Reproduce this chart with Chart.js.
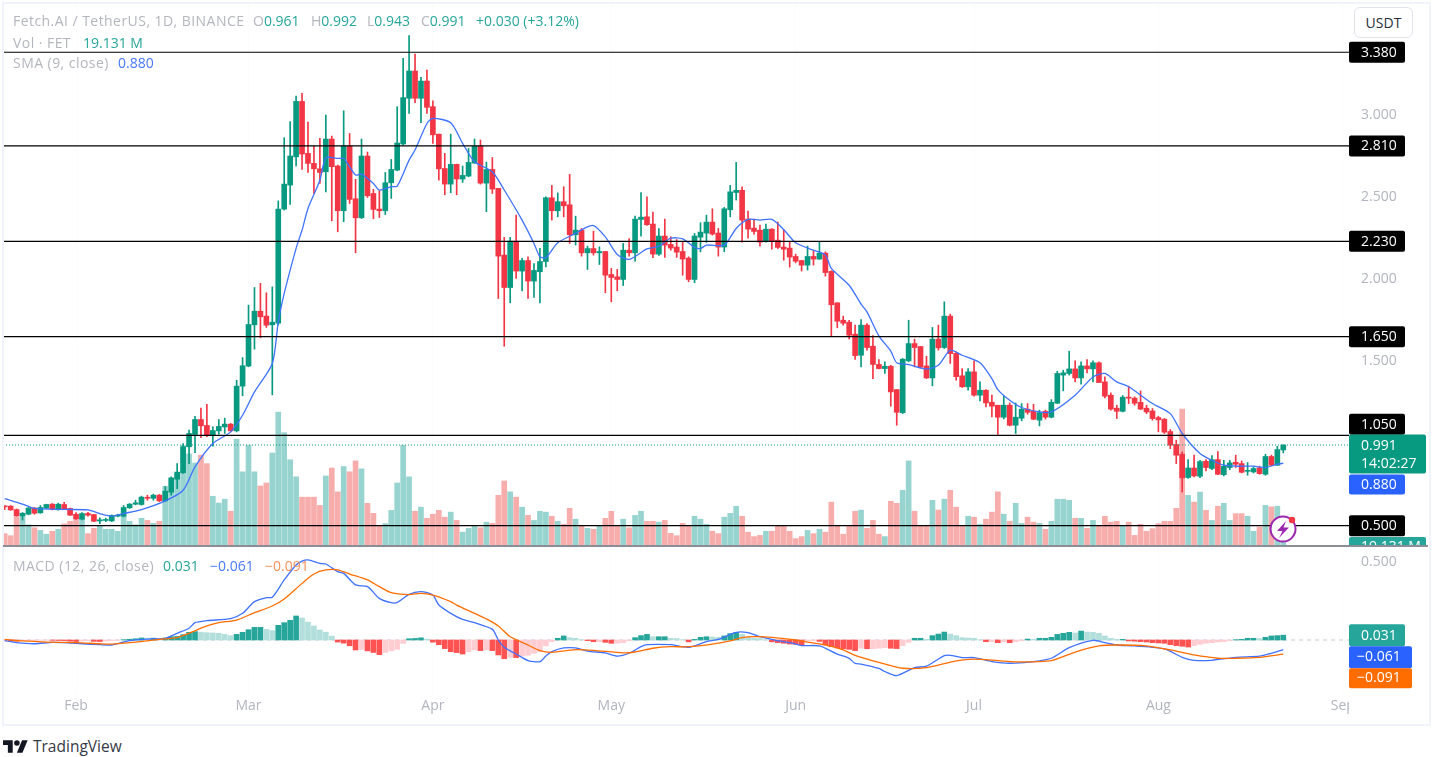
<!DOCTYPE html>
<html>
<head>
<meta charset="utf-8">
<title>FET / USDT</title>
<script src="https://cdn.jsdelivr.net/npm/chart.js@4"></script>
<style>
  html, body { margin: 0; padding: 0; background: #fff; }
  body { width: 1432px; height: 757px; position: relative; overflow: hidden; font-family: "Open Sans", sans-serif; }
  canvas { position: absolute; left: 0; }
  #priceChart { top: 0; }
  #macdChart { top: 546px; }
  .frame { position: absolute; left: 2px; top: 2px; width: 1425px; height: 720px; border: 2px solid #f0f3fa; pointer-events: none; }
  .sep { position: absolute; left: 3px; top: 545px; width: 1425px; height: 2px; background: #8b8e96; }
  .legend { position: absolute; font-size: 14px; line-height: 18px; color: #b4b6bd; white-space: nowrap; }
  .title { letter-spacing: .45px; }
  .val { color: #26a69a; }
  .blue { color: #4a78ff; }
  .orange { color: #f7915a; }
  .usdt { position: absolute; left: 1354px; top: 7px; width: 57px; height: 29px; border: 1px solid #e0e3eb; border-radius: 6px; font-size: 14px; line-height: 29px; text-align: center; color: #2a2e39; background: #fff; }
  .tv { position: absolute; left: 3px; top: 737px; height: 18px; display: flex; align-items: center; }
  .tv span { font-size: 15.5px; color: #363a45; margin-left: 5px; }
  .bolt { position: absolute; left: 1268px; top: 514px; }
</style>
</head>
<body>
<canvas id="priceChart" width="1432" height="546" style="width:1432px;height:546px"></canvas>
<canvas id="macdChart" width="1432" height="177" style="width:1432px;height:177px"></canvas>
<div class="frame"></div>
<div class="sep"></div>
<div class="legend title" style="left:13px;top:12px">Fetch.AI / TetherUS, 1D, BINANCE</div>
<div class="legend" style="left:253px;top:12px">O<span class="val">0.961</span></div>
<div class="legend" style="left:311px;top:12px">H<span class="val">0.992</span></div>
<div class="legend" style="left:367px;top:12px">L<span class="val">0.943</span></div>
<div class="legend" style="left:421px;top:12px">C<span class="val">0.991</span></div>
<div class="legend val" style="left:476px;top:12px">+0.030 (+3.12%)</div>
<div class="legend title" style="left:13px;top:34px">Vol · FET</div>
<div class="legend val" style="left:83px;top:34px">19.131 M</div>
<div class="legend title" style="left:13px;top:54px">SMA (9, close)</div>
<div class="legend blue" style="left:118px;top:54px">0.880</div>
<div class="legend title" style="left:13px;top:557px">MACD (12, 26, close)</div>
<div class="legend val" style="left:163px;top:557px">0.031</div>
<div class="legend blue" style="left:210px;top:557px">−0.061</div>
<div class="legend orange" style="left:265px;top:557px">−0.091</div>
<div class="usdt">USDT</div>
<svg class="bolt" width="32" height="30" viewBox="0 0 32 30">
  <circle cx="15" cy="15" r="12.5" fill="#fff" stroke="#9c27b0" stroke-width="2"/>
  <path d="M18 7 L9 17 L14.5 17 L11 24 L21 13.5 L15.5 13.5 Z" fill="#9c27b0"/>
  <circle cx="24" cy="6" r="3.2" fill="#f23645"/>
</svg>
<div class="tv">
  <svg width="25" height="13" viewBox="0 7 36 18"><path fill="#131722" d="M14 25H7V14H0V7h14v18zM28 25h-8l7.5-18h8L28 25z"/><circle fill="#131722" cx="20" cy="11" r="4"/></svg>
  <span>TradingView</span>
</div>
<script>
// day index 0 = Jan 20, one entry per daily candle
const opens = [.621,.619,.598,.560,.570,.607,.578,.607,.631,.598,.629,.605,.570,.540,.574,.568,.529,.532,.529,.558,.558,.609,.631,.629,.671,.667,.686,.651,.704,.783,.822,.980,1.055,1.146,1.110,1.051,1.077,1.101,1.118,1.077,1.349,1.471,1.722,1.805,1.775,1.722,1.732,2.426,2.572,2.744,3.081,2.765,2.704,2.671,2.653,2.852,2.688,2.416,2.809,2.489,2.373,2.749,2.521,2.426,2.416,2.586,2.663,2.822,3.100,3.266,3.100,3.205,3.049,2.882,2.673,2.578,2.698,2.609,2.627,2.706,2.809,2.584,2.667,2.552,2.146,1.949,2.231,2.049,2.113,1.988,2.045,2.107,2.495,2.416,2.471,2.452,2.270,2.298,2.160,2.186,2.160,2.168,2.028,2.014,1.998,2.176,2.160,2.363,2.379,2.335,2.152,2.262,2.211,2.195,2.168,2.128,1.998,2.255,2.280,2.347,2.280,2.195,2.422,2.527,2.540,2.365,2.310,2.298,2.231,2.304,2.237,2.195,2.189,2.138,2.113,2.085,2.138,2.122,2.158,2.047,1.856,1.750,1.738,1.665,1.537,1.720,1.592,1.481,1.456,1.470,1.328,1.188,1.503,1.608,1.590,1.472,1.399,1.635,1.584,1.775,1.549,1.412,1.345,1.436,1.294,1.324,1.251,1.233,1.160,1.233,1.111,1.154,1.209,1.196,1.142,1.196,1.160,1.245,1.416,1.426,1.454,1.399,1.472,1.454,1.491,1.375,1.294,1.215,1.196,1.282,1.276,1.251,1.215,1.198,1.158,1.148,1.073,.994,.935,.793,.851,.801,.892,.848,.902,.811,.854,.886,.878,.831,.827,.852,.813,.921,.868,.961];
const highs = [.621,.623,.602,.580,.611,.611,.623,.631,.635,.637,.643,.607,.580,.580,.582,.570,.548,.546,.566,.570,.623,.635,.655,.680,.686,.692,.690,.738,.797,.878,1.000,1.081,1.166,1.215,1.239,1.101,1.146,1.154,1.122,1.385,1.523,1.842,1.949,1.974,1.917,1.953,2.476,2.860,2.958,3.114,3.130,2.955,2.811,2.856,2.998,2.870,2.694,3.024,2.886,2.607,2.852,2.773,2.546,2.538,2.649,2.728,3.049,3.343,3.481,3.369,3.227,3.272,3.085,2.882,2.765,2.882,2.700,2.688,2.795,2.852,2.846,2.712,2.740,2.552,2.254,2.254,2.389,2.126,2.136,2.095,2.187,2.501,2.570,2.525,2.562,2.637,2.383,2.308,2.201,2.292,2.197,2.168,2.065,2.059,2.217,2.247,2.383,2.527,2.501,2.408,2.308,2.365,2.258,2.241,2.225,2.136,2.278,2.343,2.389,2.428,2.308,2.436,2.570,2.710,2.562,2.414,2.365,2.329,2.335,2.308,2.347,2.298,2.227,2.152,2.115,2.201,2.172,2.225,2.166,2.051,1.856,1.775,1.750,1.720,1.754,1.730,1.657,1.511,1.497,1.476,1.328,1.517,1.750,1.635,1.590,1.531,1.706,1.720,1.862,1.787,1.558,1.456,1.456,1.503,1.375,1.328,1.294,1.233,1.288,1.247,1.247,1.243,1.243,1.239,1.203,1.203,1.267,1.440,1.446,1.562,1.503,1.497,1.511,1.503,1.497,1.405,1.308,1.233,1.292,1.349,1.284,1.320,1.233,1.213,1.166,1.152,1.085,1.020,.949,.902,.929,.898,.902,.927,.951,.898,.898,.929,.894,.884,.858,.862,.935,.929,.983,.992];
const lows = [.598,.594,.558,.534,.566,.570,.576,.605,.596,.594,.598,.562,.538,.536,.558,.525,.513,.525,.525,.554,.554,.605,.627,.625,.655,.655,.647,.647,.686,.726,.818,.878,.945,1.035,1.041,.984,1.057,1.061,1.071,1.071,1.290,1.467,1.574,1.643,1.706,1.296,1.720,2.420,2.454,2.688,2.667,2.649,2.521,2.582,2.531,2.355,2.288,2.349,2.460,2.160,2.369,2.497,2.367,2.375,2.393,2.491,2.659,2.816,3.008,3.073,2.951,3.008,2.826,2.602,2.513,2.525,2.513,2.588,2.623,2.704,2.578,2.410,2.521,1.882,1.592,1.856,2.004,1.929,1.882,1.888,1.856,2.075,2.359,2.379,2.379,2.217,2.207,2.140,2.059,2.146,2.089,1.917,1.862,1.929,1.961,2.140,2.109,2.262,2.326,2.130,2.144,2.132,2.176,2.132,2.024,1.984,1.978,2.166,2.223,2.268,2.140,2.166,2.379,2.481,2.225,2.249,2.274,2.201,2.225,2.182,2.186,2.115,2.073,2.099,2.049,2.055,2.085,2.120,2.018,1.653,1.704,1.720,1.637,1.511,1.466,1.568,1.395,1.454,1.426,1.227,1.111,1.182,1.497,1.466,1.458,1.395,1.351,1.568,1.578,1.487,1.385,1.341,1.324,1.288,1.259,1.223,1.162,1.055,1.150,1.107,1.061,1.138,1.178,1.144,1.107,1.148,1.156,1.243,1.320,1.416,1.375,1.361,1.430,1.375,1.371,1.278,1.203,1.152,1.192,1.243,1.233,1.207,1.182,1.142,1.071,1.061,.969,.878,.705,.787,.797,.793,.833,.841,.811,.803,.841,.854,.821,.807,.821,.813,.807,.864,.866,.943];
const closes = [.615,.596,.560,.576,.607,.576,.611,.629,.601,.631,.603,.564,.540,.574,.564,.527,.536,.536,.562,.562,.611,.631,.639,.674,.667,.686,.651,.710,.791,.826,.980,1.061,1.146,1.108,1.051,1.079,1.104,1.118,1.077,1.349,1.473,1.724,1.805,1.771,1.720,1.738,2.426,2.578,2.749,3.081,2.761,2.704,2.671,2.649,2.852,2.684,2.416,2.809,2.485,2.373,2.749,2.507,2.424,2.416,2.586,2.667,2.828,3.104,3.266,3.100,3.205,3.045,2.878,2.671,2.578,2.698,2.609,2.631,2.710,2.809,2.584,2.667,2.548,2.140,1.949,2.231,2.049,2.113,1.988,2.053,2.107,2.495,2.416,2.471,2.446,2.270,2.298,2.160,2.186,2.160,2.168,2.024,2.010,1.998,2.176,2.160,2.365,2.377,2.331,2.152,2.262,2.207,2.189,2.164,2.122,1.998,2.262,2.286,2.347,2.274,2.195,2.428,2.531,2.540,2.359,2.304,2.290,2.225,2.304,2.231,2.193,2.182,2.134,2.109,2.085,2.138,2.122,2.158,2.040,1.844,1.744,1.732,1.659,1.535,1.720,1.584,1.481,1.456,1.470,1.314,1.190,1.513,1.608,1.584,1.464,1.399,1.635,1.582,1.775,1.547,1.407,1.345,1.436,1.294,1.324,1.247,1.227,1.160,1.233,1.111,1.160,1.209,1.190,1.148,1.188,1.160,1.251,1.426,1.430,1.454,1.399,1.472,1.454,1.491,1.371,1.288,1.209,1.196,1.282,1.276,1.245,1.209,1.192,1.152,1.144,1.069,.990,.929,.791,.851,.803,.890,.854,.902,.813,.862,.882,.874,.825,.837,.848,.817,.921,.868,.963,.991];
// millions of FET
const volumes = [42,35,99,101,72,62,53,40,50,57,75,84,87,93,42,60,68,57,57,50,101,84,72,94,87,77,84,203,184,245,342,313,282,309,280,169,146,159,118,363,252,342,252,204,214,316,455,385,293,235,166,166,166,138,238,265,184,270,252,289,262,145,111,69,76,121,214,342,235,118,132,94,108,121,98,115,87,47,60,67,62,81,77,172,221,184,166,132,104,87,118,115,101,84,74,128,91,67,60,57,67,94,118,67,91,62,104,118,84,84,81,87,43,35,77,67,101,91,74,50,42,98,111,135,101,47,32,36,50,50,67,67,50,25,32,53,42,57,47,149,67,40,67,118,122,60,87,40,32,152,145,189,289,118,67,67,155,122,159,189,132,67,101,98,74,91,115,184,108,84,145,77,98,81,77,57,84,159,159,155,94,94,60,87,67,101,81,84,68,81,36,74,50,59,76,84,84,128,465,172,149,183,121,87,135,145,87,110,110,101,50,64,138,133,135,19.131];
const histogram = [-.006,-.007,-.008,-.006,-.004,-.003,-.002,-.001,-.002,-.003,-.004,-.008,-.010,-.007,-.005,-.009,-.010,-.007,-.004,-.002,.002,.005,.008,.013,.012,.012,.009,.013,.021,.023,.034,.049,.054,.050,.047,.045,.043,.036,.028,.036,.049,.066,.081,.081,.068,.060,.094,.111,.126,.154,.141,.115,.090,.064,.050,.025,-.013,-.020,-.037,-.064,-.060,-.070,-.080,-.094,-.080,-.070,-.060,-.022,.008,.010,.014,.006,-.014,-.030,-.055,-.075,-.081,-.090,-.075,-.064,-.068,-.064,-.068,-.096,-.120,-.111,-.113,-.103,-.098,-.085,-.075,-.038,-.011,.011,.026,.015,.011,.002,-.004,-.011,-.011,-.015,-.021,-.021,-.017,-.004,.015,.028,.036,.021,.021,.021,.011,.009,.002,-.012,.004,.017,.021,.019,.017,.026,.041,.049,.036,.017,.011,.009,.001,-.012,-.017,-.021,-.026,-.028,-.032,-.005,-.005,-.009,-.032,-.043,-.051,-.056,-.060,-.068,-.053,-.056,-.056,-.053,-.049,-.053,-.055,-.036,-.015,.011,.011,.004,.028,.038,.051,.038,.028,.015,.013,.011,.001,-.011,-.011,-.017,-.011,-.017,-.011,-.004,.006,.004,.011,.011,.017,.036,.043,.049,.045,.057,.051,.049,.043,.026,.011,.004,.004,-.006,-.008,-.011,-.013,-.017,-.019,-.021,-.030,-.036,-.040,-.045,-.036,-.028,-.021,-.017,-.013,-.011,-.004,.002,.004,.011,.011,.009,.017,.026,.028,.031];

// lines were read at their bends, so each has its own day list
const smaDays = [0,3,5,10,14,16,18,20,23,27,30,32,35,38,40,42,45,46,47,49,50,51,53,54,56,57,59,60,62,63,65,66,68,69,71,72,75,77,79,82,84,87,89,90,91,93,96,97,99,101,103,105,108,110,112,114,116,117,118,121,123,125,127,129,131,133,136,138,139,142,144,145,147,149,150,152,155,157,159,161,164,166,167,169,171,174,176,180,183,185,187,189,193,196,198,201,203,205,207,210,212,214,215];
const smaValues = [.665,.631,.605,.599,.596,.574,.558,.574,.598,.651,.716,.858,1.000,1.071,1.172,1.314,1.487,1.740,1.913,2.187,2.298,2.430,2.602,2.738,2.734,2.734,2.633,2.639,2.582,2.542,2.562,2.566,2.724,2.785,2.947,2.978,2.951,2.826,2.714,2.653,2.542,2.359,2.217,2.136,2.130,2.221,2.278,2.300,2.326,2.257,2.150,2.120,2.184,2.200,2.249,2.245,2.193,2.186,2.207,2.207,2.308,2.363,2.359,2.363,2.302,2.221,2.176,2.146,2.065,1.963,1.848,1.801,1.655,1.562,1.491,1.480,1.454,1.476,1.568,1.537,1.491,1.395,1.328,1.263,1.219,1.192,1.192,1.294,1.405,1.426,1.375,1.345,1.243,1.182,1.061,.939,.898,.868,.862,.862,.854,.874,.880];
const macdDays = [0,2,5,8,10,13,16,18,21,24,27,29,31,32,34,38,40,42,44,45,47,49,50,51,53,54,56,57,59,61,63,65,66,68,70,72,73,75,77,79,82,83,84,86,88,90,91,92,94,96,98,101,103,105,107,108,112,115,118,120,123,125,127,130,133,134,137,140,142,143,144,147,148,150,153,155,158,159,161,163,166,169,173,176,179,183,185,187,190,195,198,200,203,207,211,213,215];
const macdValues = [-.004,-.017,-.024,-.015,-.017,-.024,-.030,-.032,-.004,.006,.011,.043,.075,.111,.124,.137,.171,.246,.271,.274,.385,.481,.506,.513,.491,.487,.438,.427,.353,.342,.267,.239,.241,.293,.310,.288,.224,.171,.132,.111,.068,0,-.047,-.090,-.132,-.139,-.103,-.075,-.051,-.051,-.071,-.083,-.103,-.085,-.043,-.030,-.030,-.047,-.011,.004,.049,.047,.021,-.004,-.026,-.036,-.038,-.090,-.118,-.150,-.154,-.182,-.202,-.228,-.177,-.168,-.100,-.098,-.113,-.113,-.138,-.149,-.138,-.117,-.049,-.002,-.017,-.032,-.038,-.057,-.111,-.130,-.130,-.111,-.104,-.085,-.061];
const signalDays = [0,3,7,12,16,18,22,26,29,31,34,36,39,42,45,47,50,52,54,56,58,61,63,65,68,70,72,75,76,79,81,83,85,88,90,92,96,99,104,106,109,112,115,119,122,124,126,129,133,135,138,141,143,147,151,155,160,163,167,170,176,180,184,187,192,196,200,204,207,211,215];
const signalValues = [.004,-.006,-.013,-.017,-.024,-.026,-.013,.004,.015,.043,.090,.111,.128,.175,.218,.263,.363,.423,.449,.449,.423,.385,.342,.303,.291,.299,.288,.246,.224,.171,.135,.090,.021,-.032,-.068,-.079,-.062,-.066,-.083,-.077,-.053,-.043,-.043,-.026,-.006,.015,.021,.017,0,-.013,-.032,-.064,-.098,-.143,-.181,-.177,-.134,-.123,-.132,-.140,-.132,-.077,-.038,-.032,-.038,-.064,-.096,-.117,-.117,-.111,-.091];

const levels = [3.38, 2.81, 2.23, 1.65, 1.05, 0.5];
const lastPrice = 0.991;
const priceTicks = [3, 2.5, 2, 1.5];
const macdTicks = [0.5];
const monthTicks = [12, 41, 72, 102, 133, 163, 194, 225];
const monthLabels = ['Feb', 'Mar', 'Apr', 'May', 'Jun', 'Jul', 'Aug', 'Sep'];

const GREEN = '#089981';
const RED = '#f23645';
const X_MIN = -0.286;
const X_MAX = 226.05;
const FONT = '"Open Sans", sans-serif';

Chart.defaults.font.family = FONT;
Chart.defaults.font.size = 14;
Chart.defaults.color = '#b2b5be';

const days = closes.map((_, i) => i);
const isUp = i => closes[i] >= opens[i];
const candleColors = days.map(i => isUp(i) ? GREEN : RED);

function pairs(xs, ys) {
  return xs.map((x, i) => ({ x: x, y: ys[i] }));
}

function lineSet(data, color, width, order, yAxisID, extra) {
  return Object.assign({
    type: 'line', data, borderColor: color, borderWidth: width, pointRadius: 0,
    order, yAxisID, tension: 0, clip: true
  }, extra || {});
}

function xScale(showLabels) {
  return {
    type: 'linear', min: X_MIN, max: X_MAX, display: true, offset: false,
    grid: { display: true, color: '#fafbfc', drawTicks: false, offset: false },
    border: { display: false },
    afterBuildTicks: s => { s.ticks = monthTicks.map(v => ({ value: v })); },
    afterFit: s => { s.height = showLabels ? 28 : 0; s.paddingLeft = 0; s.paddingRight = 0; },
    ticks: {
      display: showLabels, autoSkip: false, maxRotation: 0, padding: 3,
      color: '#b2b5be', font: { size: 14 },
      callback: v => monthLabels[monthTicks.indexOf(v)]
    }
  };
}

function yScale(min, max, tickValues, fmt) {
  return {
    position: 'right', min, max,
    grid: { display: false, drawTicks: false },
    border: { display: false },
    afterBuildTicks: s => { s.ticks = tickValues.map(v => ({ value: v })); },
    afterFit: s => { s.width = 79; s.paddingTop = 0; s.paddingBottom = 0; },
    ticks: { padding: 12, color: '#b2b5be', font: { size: 14 }, callback: fmt, crossAlign: 'near' }
  };
}

function tag(ctx, x, y, w, h, color) {
  ctx.fillStyle = color;
  ctx.beginPath();
  ctx.roundRect(x, y, w, h, 2);
  ctx.fill();
}

function tagText(ctx, txt, x, y) {
  ctx.fillStyle = '#fff';
  ctx.font = '14px ' + FONT;
  ctx.textAlign = 'left';
  ctx.textBaseline = 'middle';
  ctx.fillText(txt, x, y);
}

// right hand labels of the price pane
const priceTags = {
  id: 'priceTags',
  afterDraw(chart) {
    const ctx = chart.ctx;
    const y = chart.scales.y;
    ctx.save();
    levels.forEach(v => {
      // the 1.050 label is pushed up by the last price label below it
      const c = y.getPixelForValue(v) - (v === 1.05 ? 11 : 0);
      tag(ctx, 1349, c - 10.5, 56, 21, '#000');
      tagText(ctx, v.toFixed(3), 1361, c + 0.5);
    });
    const p = y.getPixelForValue(lastPrice);
    tag(ctx, 1349, p - 10.5, 77, 39, GREEN);
    tagText(ctx, lastPrice.toFixed(3), 1361, p + 1);
    tagText(ctx, '14:02:27', 1361, p + 19);
    tag(ctx, 1349, p + 29.5, 56, 20, '#2962ff');
    tagText(ctx, smaValues[smaValues.length - 1].toFixed(3), 1361, p + 40);
    tag(ctx, 1349, 537, 77, 20, '#26a69a');
    tagText(ctx, '19.131 M', 1361, 547);
    ctx.restore();
  }
};

// right hand labels of the MACD pane, also hides the cut off end of Sep
const macdTags = {
  id: 'macdTags',
  afterDraw(chart) {
    const ctx = chart.ctx;
    const a = chart.chartArea;
    const y = chart.scales.y;
    ctx.save();
    ctx.fillStyle = '#fff';
    ctx.fillRect(a.right, a.bottom, 78, 26);
    const h = y.getPixelForValue(histogram[histogram.length - 1]);
    tag(ctx, 1349, h - 11, 56, 22, '#26a69a');
    tagText(ctx, histogram[histogram.length - 1].toFixed(3), 1361, h + 0.5);
    tag(ctx, 1349, h + 11, 63, 22, '#2962ff');
    tagText(ctx, '−' + Math.abs(macdValues[macdValues.length - 1]).toFixed(3), 1357, h + 22);
    tag(ctx, 1349, h + 33, 63, 20, '#ff6d00');
    tagText(ctx, '−' + Math.abs(signalValues[signalValues.length - 1]).toFixed(3), 1357, h + 43);
    ctx.restore();
  }
};

const levelSets = levels.map(v => lineSet(pairs([X_MIN, X_MAX], [v, v]), '#000', 1.2, 0, 'y'));

new Chart(document.getElementById('priceChart'), {
  type: 'bar',
  data: {
    datasets: [
      ...levelSets,
      lineSet(pairs([X_MIN, X_MAX], [lastPrice, lastPrice]), GREEN, 1, 1, 'y', { borderDash: [1, 2] }),
      lineSet(pairs(smaDays, smaValues), '#3f72ff', 1.3, 2, 'y', { tension: 0.25 }),
      {
        label: 'body', data: days.map(i => ({ x: i, y: [opens[i], closes[i]] })),
        backgroundColor: candleColors, barThickness: 5, minBarLength: 1, grouped: false, order: 3, yAxisID: 'y'
      },
      {
        label: 'wick', data: days.map(i => ({ x: i, y: [lows[i], highs[i]] })),
        backgroundColor: candleColors, barThickness: 1, grouped: false, order: 4, yAxisID: 'y'
      },
      {
        label: 'volume', data: days.map(i => ({ x: i, y: volumes[i] })),
        backgroundColor: days.map(i => isUp(i) ? 'rgba(38,166,154,0.48)' : 'rgba(239,83,80,0.48)'),
        barThickness: 5, grouped: false, order: 5, yAxisID: 'yVol'
      }
    ]
  },
  plugins: [priceTags],
  options: {
    responsive: false, animation: false, events: [],
    layout: { padding: { left: 3, right: 4, top: 3, bottom: 0 } },
    plugins: { legend: { display: false }, tooltip: { enabled: false } },
    scales: {
      x: xScale(false),
      y: yScale(0.3766, 3.6797, priceTicks, v => v.toFixed(3)),
      yVol: { display: false, min: 0, max: 1845 }
    }
  }
});

const histColors = histogram.map((v, i) => {
  const rising = i === 0 || v >= histogram[i - 1];
  if (v >= 0) return rising ? '#26a69a' : '#b2dfdb';
  return rising ? '#ffcdd2' : '#ff5252';
});

new Chart(document.getElementById('macdChart'), {
  type: 'bar',
  data: {
    datasets: [
      lineSet(pairs(signalDays, signalValues), '#ff6d00', 1.3, 0, 'y', { tension: 0.25 }),
      lineSet(pairs(macdDays, macdValues), '#3f72ff', 1.3, 1, 'y', { tension: 0.25 }),
      lineSet(pairs([X_MIN, X_MAX], [0, 0]), '#c9cbd1', 1, 3, 'y', { borderDash: [4, 4] }),
      {
        label: 'histogram', data: days.map(i => ({ x: i, y: histogram[i] })),
        backgroundColor: histColors, barThickness: 5, grouped: false, order: 2, yAxisID: 'y'
      }
    ]
  },
  plugins: [macdTags],
  options: {
    responsive: false, animation: false, events: [],
    layout: { padding: { left: 3, right: 4, top: 0, bottom: 0 } },
    plugins: { legend: { display: false }, tooltip: { enabled: false } },
    scales: {
      x: xScale(true),
      y: yScale(-0.3526, 0.6026, macdTicks, v => v.toFixed(3))
    }
  }
});
</script>
</body>
</html>
